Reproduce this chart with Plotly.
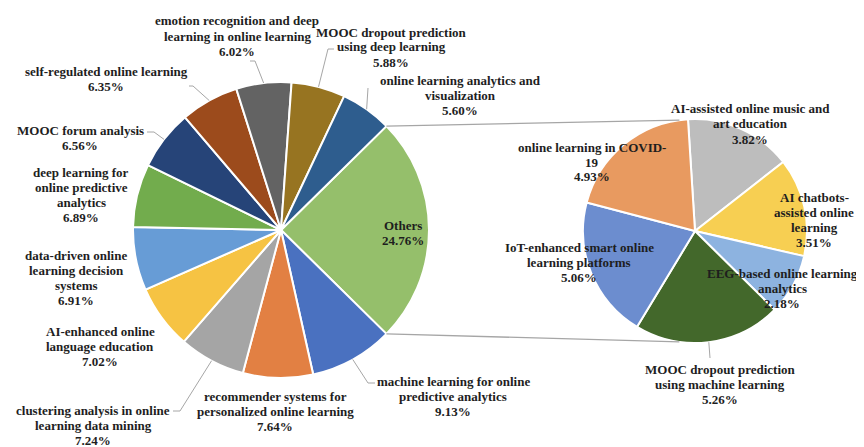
import math
import plotly.graph_objects as go

# ---- data
main_labels = [
    "Others",
    "machine learning for online<br>predictive analytics",
    "recommender systems for<br>personalized online learning",
    "clustering analysis in online<br>learning data mining",
    "AI-enhanced online<br>language education",
    "data-driven online<br>learning decision<br>systems",
    "deep learning for<br>online predictive<br>analytics",
    "MOOC forum analysis",
    "self-regulated online learning",
    "emotion recognition and deep<br>learning in online learning",
    "MOOC dropout prediction<br>using deep learning",
    "online learning analytics and<br>visualization",
]
main_values = [24.76, 9.13, 7.64, 7.24, 7.02, 6.91, 6.89, 6.56, 6.35, 6.02, 5.88, 5.60]

sub_labels = [
    "AI-assisted online music and<br>art education",
    "AI chatbots-<br>assisted online<br>learning",
    "EEG-based online learning<br>analytics",
    "MOOC dropout prediction<br>using machine learning",
    "IoT-enhanced smart online<br>learning platforms",
    "online learning in COVID-<br>19",
]
sub_values = [3.82, 3.51, 2.18, 5.26, 5.06, 4.93]

# ---- styles
main_colors = ["#95BF6B", "#4A71C0", "#E28043", "#A5A5A5", "#F6C343", "#679CD6",
               "#72AC4D", "#264478", "#9C4B1C", "#636363", "#977421", "#2E5D8E"]
sub_colors = ["#BDBDBD", "#F7CF52", "#8DB3E0", "#43682B", "#6C8DCF", "#E89A60"]

W, H = 864, 447
main_c, main_r = (273, 222), 148
sub_c, sub_r = (687, 223), 112
sub_rotation = -3.6
LINE_H = 15  # px between label lines

# label centres (px) and leader elbows (px)
main_label_pos = [(395, 225), (445, 388), (267, 403), (85, 417), (92, 338), (68, 270),
                  (73, 187), (72, 130), (98, 71), (229, 28), (383, 39), (452, 87)]
main_leaders = [None, [(360, 375), (367, 375)], None, [(172, 403), (165, 403)], None, None,
                None, [(146, 124), (139, 124)], [(185, 78), (181, 78)],
                [(247, 53), (242, 53)], [(320, 41), (326, 41)], [(360, 80)]]
sub_label_pos = [(742, 116), (806, 212), (774, 280), (712, 376), (571, 254), (584, 154)]
sub_leaders = [None, None, None, [(702, 350)], None, None]

GREY = "#A6A6A6"
FONT = dict(family="Liberation Serif", size=13, color="#1E1E1E", weight="bold")


def X(px):
    return px / W


def Y(py):
    return 1 - py / H


def on_circle(c, r, deg):
    a = math.radians(deg)
    return (c[0] + r * math.sin(a), c[1] - r * math.cos(a))


# Others slice centred at 3 o'clock
main_total = sum(main_values)
main_rotation = 90 - main_values[0] / main_total * 180

fig = go.Figure()

fig.add_trace(go.Pie(
    labels=main_labels, values=main_values, sort=False, direction="clockwise",
    rotation=main_rotation, textinfo="none", showlegend=False,
    marker=dict(colors=main_colors, line=dict(color="white", width=2)),
    domain=dict(x=[X(main_c[0] - main_r), X(main_c[0] + main_r)],
                y=[Y(main_c[1] + main_r), Y(main_c[1] - main_r)]),
))
fig.add_trace(go.Pie(
    labels=sub_labels, values=sub_values, sort=False, direction="clockwise",
    rotation=sub_rotation, textinfo="none", showlegend=False,
    marker=dict(colors=sub_colors, line=dict(color="white", width=2)),
    domain=dict(x=[X(sub_c[0] - sub_r), X(sub_c[0] + sub_r)],
                y=[Y(sub_c[1] + sub_r), Y(sub_c[1] - sub_r)]),
))

shapes = []
annotations = []


def add_line(p0, p1, width=1):
    shapes.append(dict(type="line", xref="paper", yref="paper",
                       x0=X(p0[0]), y0=Y(p0[1]), x1=X(p1[0]), y1=Y(p1[1]),
                       line=dict(color=GREY, width=width)))


def add_labels(labels, values, pos, leaders, c, r, rotation):
    total = sum(values)
    start = rotation
    for lab, v, p, ld in zip(labels, values, pos, leaders):
        span = v / total * 360
        mid = start + span / 2
        start += span
        if ld:
            pts = [on_circle(c, r, mid)] + ld
            for a, b in zip(pts[:-1], pts[1:]):
                add_line(a, b)
        # one annotation per line, to get the tight Excel line spacing
        lines = lab.split("<br>") + ["{:.2f}%".format(v)]
        n = len(lines)
        for i, t in enumerate(lines):
            annotations.append(dict(
                x=X(p[0]), y=Y(p[1] + (i - (n - 1) / 2) * LINE_H),
                xref="paper", yref="paper", text=t, showarrow=False,
                xanchor="center", yanchor="middle", font=FONT,
            ))


add_labels(main_labels, main_values, main_label_pos, main_leaders, main_c, main_r, main_rotation)
add_labels(sub_labels, sub_values, sub_label_pos, sub_leaders, sub_c, sub_r, sub_rotation)

# ---- connector lines between Others and the second pie
others_span = main_values[0] / main_total * 360
add_line(on_circle(main_c, main_r, main_rotation), on_circle(sub_c, sub_r, -8), 1.3)
add_line(on_circle(main_c, main_r, main_rotation + others_span), on_circle(sub_c, sub_r, 188), 1.3)

fig.update_layout(
    width=W, height=H,
    margin=dict(l=0, r=0, t=0, b=0),
    paper_bgcolor="white", plot_bgcolor="white",
    shapes=shapes, annotations=annotations,
)

fig.write_html("out.html")
